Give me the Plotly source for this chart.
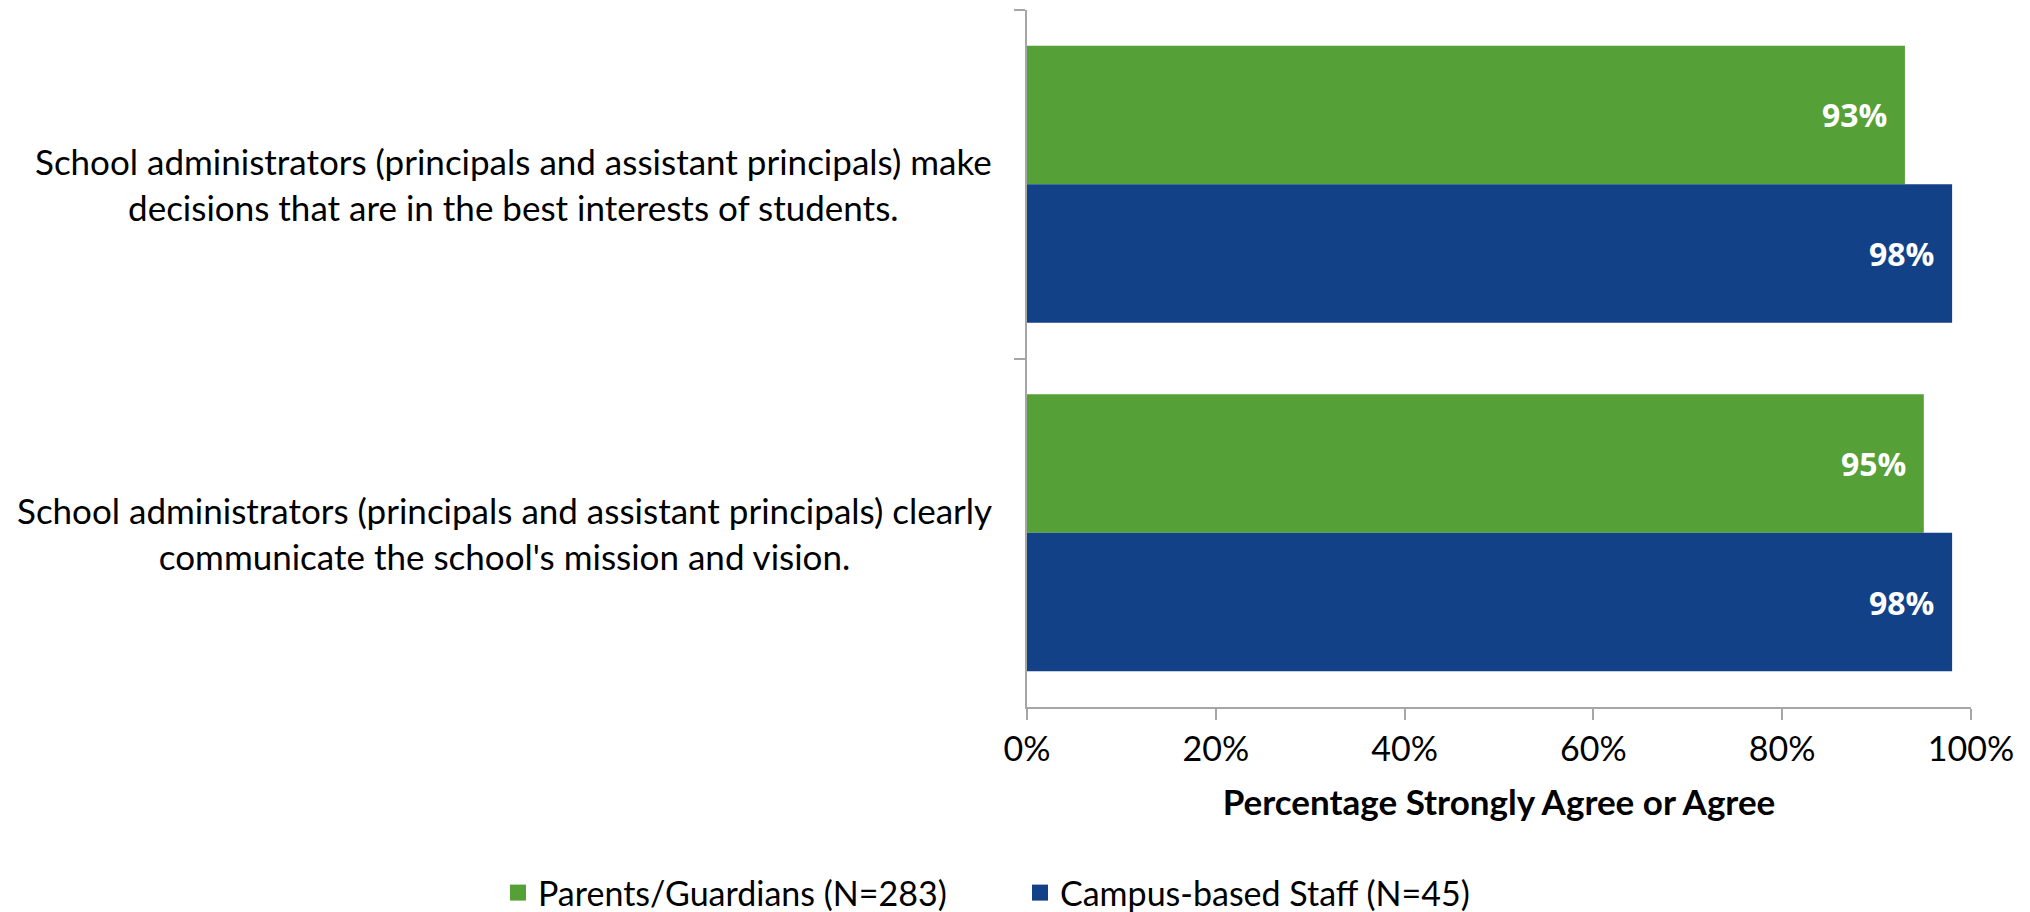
import plotly.graph_objects as go

categories = [
    "School administrators (principals and assistant principals) make<br>decisions that are in the best interests of students.",
    "School administrators (principals and assistant principals) clearly<br>communicate the school's mission and vision.",
]
series_names = ["Parents/Guardians (N=283)", "Campus-based Staff (N=45)"]
parents = [93, 95]
staff = [98, 98]
tick_vals = [0, 20, 40, 60, 80, 100]
tick_text = ["0%", "20%", "40%", "60%", "80%", "100%"]

GREEN = "#55A037"
BLUE = "#134188"
FONT = "Lato"
AXIS_GREY = "#a6a6a6"

# page body has an 8px margin -> figure is 8px smaller than the window
W, H = 2022, 904
M_L, M_R, M_T, M_B = 1019, 59, 2, 205
BARGAP = 0.205
PW = W - M_L - M_R
PH = H - M_T - M_B

fig = go.Figure()
for name, vals, col in [(series_names[0], parents, GREEN), (series_names[1], staff, BLUE)]:
    fig.add_trace(go.Bar(
        y=categories, x=vals, name=name, orientation="h",
        marker=dict(color=col, line=dict(width=0)),
        showlegend=False, hoverinfo="skip",
    ))
    fig.add_trace(go.Scatter(
        x=[None], y=[None], mode="markers", name=name,
        marker=dict(symbol="square", size=18, color=col),
        showlegend=True, hoverinfo="skip",
    ))

# value labels at the inner end of each bar
band = PH / len(categories)
bar_h = band * (1 - BARGAP) / 2
shifts = [bar_h / 2, -bar_h / 2]  # first series on top (reversed axis)
for k, vals in enumerate([parents, staff]):
    for c, v in zip(categories, vals):
        fig.add_annotation(
            x=v, xref="x", xanchor="right", xshift=-16,
            y=c, yref="y", yanchor="middle", yshift=shifts[k],
            text=f"<b>{v}%</b>", showarrow=False,
            font=dict(family="Open Sans", size=32, color="white"),
        )

# category labels, centered multi-line
for c in categories:
    fig.add_annotation(
        x=0, xref="paper", xanchor="right", xshift=-33,
        y=c, yref="y", yanchor="middle",
        text=c, showarrow=False, align="center",
        font=dict(family=FONT, size=35, color="black"),
    )

fig.update_layout(
    width=W, height=H,
    margin=dict(l=M_L, r=M_R, t=M_T, b=M_B, autoexpand=False),
    paper_bgcolor="white", plot_bgcolor="white",
    barmode="group", bargap=BARGAP, bargroupgap=0,
    font=dict(family=FONT, color="black"),
    showlegend=True,
    legend=dict(
        orientation="h", xref="paper", x=(490 - M_L) / PW, xanchor="left",
        yref="paper", y=(H - M_B - 885) / PH, yanchor="middle",
        font=dict(family=FONT, size=34, color="black"),
        itemwidth=30, traceorder="normal",
        entrywidth=477, entrywidthmode="pixels",
    ),
    xaxis=dict(
        range=[0, 100], tickvals=tick_vals, ticktext=tick_text,
        showgrid=False, zeroline=False, automargin=False,
        showline=True, linecolor=AXIS_GREY, linewidth=2,
        ticks="outside", ticklen=11, tickcolor=AXIS_GREY, tickwidth=2,
        tickfont=dict(family=FONT, size=34, color="black"),
        title=dict(text="<b>Percentage Strongly Agree or Agree</b>",
                   font=dict(family=FONT, size=35, color="black"), standoff=24),
    ),
    yaxis=dict(
        autorange="reversed", showticklabels=False, automargin=False,
        showgrid=False, zeroline=False,
        showline=True, linecolor=AXIS_GREY, linewidth=2,
        ticks="outside", ticklen=11, tickcolor=AXIS_GREY, tickwidth=2,
        tickson="boundaries",
    ),
)

fig.write_html("out.html")
